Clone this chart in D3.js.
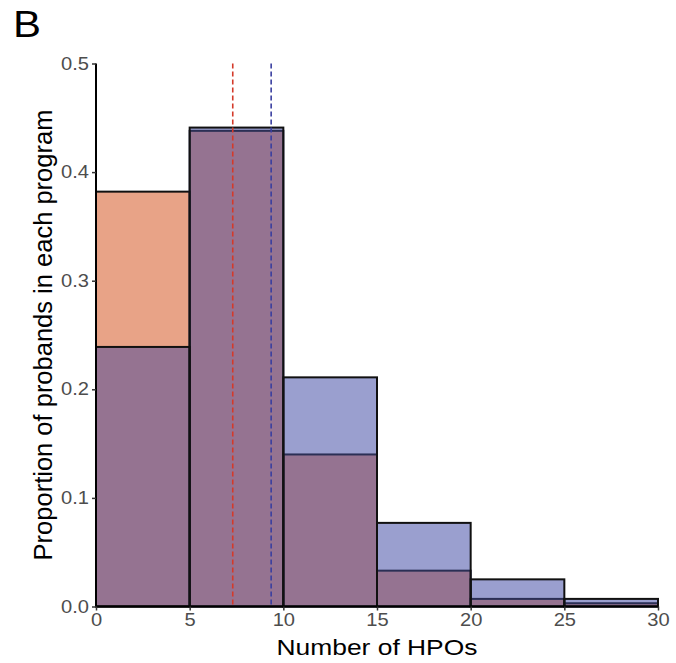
<!DOCTYPE html>
<html><head><meta charset="utf-8">
<script src="https://cdn.jsdelivr.net/npm/d3@7"></script>
<style>body{margin:0;background:#fff}svg{display:block;font-family:"Liberation Sans",Arial,sans-serif}</style>
</head><body>
<svg id="c" width="676" height="663"></svg>
<script>
const binStarts = [0, 5, 10, 15, 20, 25];
const binWidth = 5;
const orangeValues = [0.382, 0.438, 0.140, 0.033, 0.007, 0.003];
const blueValues = [0.239, 0.441, 0.211, 0.077, 0.025, 0.007];
const orangeMean = 7.30;
const blueMean = 9.35;
const xTicks = [0, 5, 10, 15, 20, 25, 30];
const yTicks = [0.0, 0.1, 0.2, 0.3, 0.4, 0.5];

const svg = d3.select("#c");
const x = d3.scaleLinear().domain([0, 30]).range([96, 658]);
const y = d3.scaleLinear().domain([0, 0.5]).range([606.5, 63.5]);

const data = binStarts.map((s, i) => ({s, o: orangeValues[i], b: blueValues[i]}));

function bars(cls, val, fill, stroke) {
  svg.append("g").attr("class", cls).selectAll("rect").data(data).join("rect")
    .attr("x", d => x(d.s)).attr("width", d => x(d.s + binWidth) - x(d.s))
    .attr("y", d => y(val(d))).attr("height", d => y(0) - y(val(d)))
    .attr("fill", fill)
    .attr("stroke", stroke ? stroke : "none")
    .attr("stroke-width", stroke ? 2 : 0);
}
bars("orange", d => d.o, "#E8A387");
bars("blue", d => d.b, "#9A9FCF");
bars("overlap", d => Math.min(d.o, d.b), "#957391");
bars("orangeOutline", d => d.o, "none", d => d.o < d.b ? "#2b2f55" : "#111");
bars("blueOutline", d => d.b, "none", "#111");

// mean lines
svg.append("line").attr("x1", x(orangeMean)).attr("x2", x(orangeMean))
  .attr("y1", y(0.5)).attr("y2", y(0)).attr("stroke", "#D43A2A")
  .attr("stroke-width", 1.6).attr("stroke-dasharray", "5,3");
svg.append("line").attr("x1", x(blueMean)).attr("x2", x(blueMean))
  .attr("y1", y(0.5)).attr("y2", y(0)).attr("stroke", "#3A3FA0")
  .attr("stroke-width", 1.6).attr("stroke-dasharray", "5,3");

// axes
const sx = 1.15;
const yAxis = svg.append("g").attr("transform", "translate(96,0)")
  .call(d3.axisLeft(y).tickValues(yTicks).tickFormat(d3.format(".1f")).tickSize(4).tickPadding(3));
const xAxis = svg.append("g").attr("transform", "translate(0,606.5)")
  .call(d3.axisBottom(x).tickValues(xTicks).tickFormat(d3.format("d")).tickSize(4).tickPadding(3));
[yAxis, xAxis].forEach(a => {
  a.select(".domain").attr("stroke", "#000").attr("stroke-width", 2);
  a.selectAll(".tick line").attr("stroke", "#333").attr("stroke-width", 1.5);
  a.selectAll(".tick text").attr("fill", "#4d4d4d").attr("font-size", 17.5)
    .attr("font-family", "Liberation Sans, Arial, sans-serif")
    .attr("x", function() { return (+d3.select(this).attr("x") || 0) / sx; })
    .attr("transform", `scale(${sx},1)`);
});
yAxis.select(".domain").attr("d", `M0,${y(0.5)}V${y(0)}`);
xAxis.select(".domain").attr("d", `M${x(0)},0H${x(30)}`);

// titles
svg.append("text").attr("transform", "translate(377,655) scale(1.2,1)").attr("text-anchor", "middle")
  .attr("font-size", 22).attr("fill", "#000").text("Number of HPOs");
svg.append("text").attr("transform", "translate(52,335) rotate(-90)").attr("text-anchor", "middle")
  .attr("font-size", 25.5).attr("fill", "#000").text("Proportion of probands in each program");
svg.append("text").attr("transform", "translate(13,37) scale(1.12,1)").attr("font-size", 37.5)
  .attr("fill", "#000").text("B");
</script>
</body></html>
